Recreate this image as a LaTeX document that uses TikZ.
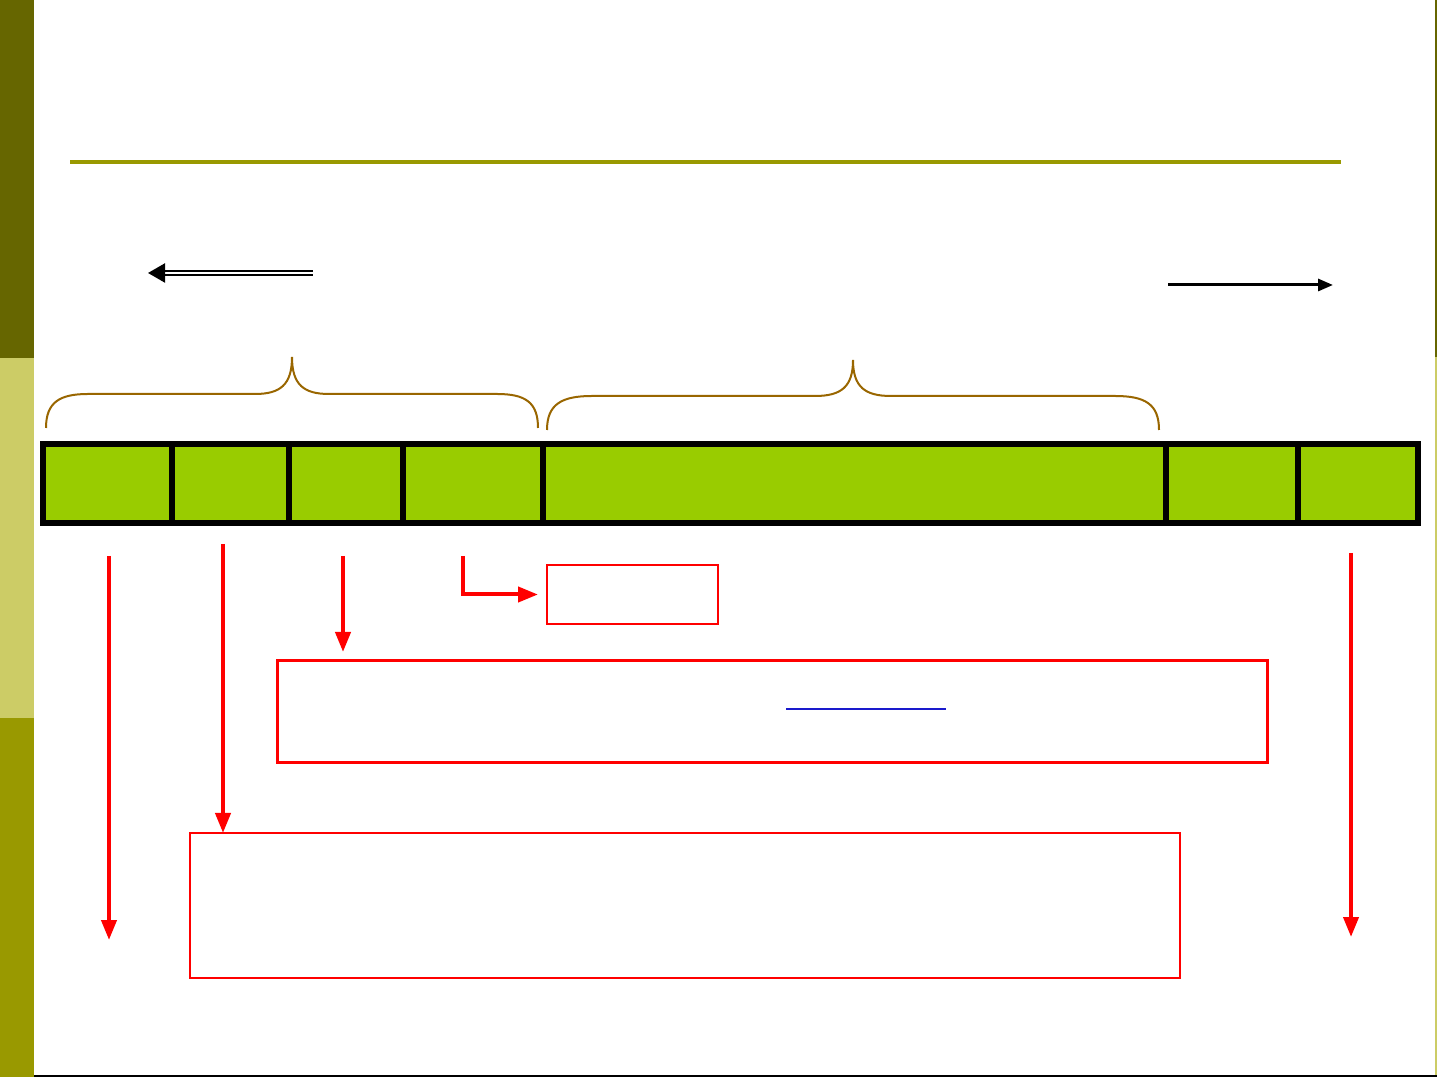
\documentclass[tikz,border=0pt]{standalone}
\usepackage{xcolor}
\usepackage{tikz}
\usetikzlibrary{arrows.meta, positioning, calc}
\definecolor{olivedark}{HTML}{666600}
\definecolor{olivelight}{HTML}{CCCC66}
\definecolor{olivemid}{HTML}{999900}
\definecolor{fieldgreen}{HTML}{99CC00}
\definecolor{bracebrown}{HTML}{996600}
\definecolor{linkblue}{HTML}{1A1ACC}
\tikzstyle{redarrow} = [red,line width=0.4mm,-{Triangle[length=2mm,width=1.5mm]}]
\tikzstyle{brace} = [bracebrown,line width=0.2mm]
\tikzset{
field/.style={draw=black,fill=fieldgreen,line width=0.6mm,inner sep=0pt,outer sep=0pt,minimum height=7.85mm},
notebox/.style={draw=red,line width=0.25mm,inner sep=0pt,outer sep=0pt}
}

\begin{document}
\begin{tikzpicture}[x=0.1mm,y=-0.1mm]
\useasboundingbox (0,0) rectangle (1437,1077);
%----------------------------------------------------------------------------
% Slide frame
\fill[olivedark] (0,0) rectangle (34,358);
\fill[olivelight] (0,358) rectangle (34,718);
\fill[olivemid] (0,718) rectangle (34,1077);
\fill[olivedark] (1435,0) rectangle (1437,357);
\fill[olivelight] (1435,357) rectangle (1437,1077);
\fill[black] (34,1075) rectangle (1437,1077);
\fill[olivemid] (70,160) rectangle (1341,164);

%----------------------------------------------------------------------------
% Placement of field nodes
\node (seg1) [field, minimum width=12.85mm, anchor=north west] at (43,444.5) {};
\node (seg2) [field, minimum width=11.75mm, right=0pt of seg1] {};
\node (seg3) [field, minimum width=11.4mm, right=0pt of seg2] {};
\node (seg4) [field, minimum width=14mm, right=0pt of seg3] {};
\node (seg5) [field, minimum width=62.25mm, right=0pt of seg4] {};
\node (seg6) [field, minimum width=13.2mm, right=0pt of seg5] {};
\node (seg7) [field, minimum width=12.05mm, right=0pt of seg6] {};

% Note boxes
\node (noteSmall) [notebox, minimum width=17.1mm, minimum height=5.9mm, anchor=north west] at (547,565) {};
\node (noteMid) [notebox, line width=0.3mm, minimum width=99mm, minimum height=10.2mm, anchor=north west] at (277,661) {};
\node (noteBig) [notebox, minimum width=99mm, minimum height=14.5mm, anchor=north west] at (190,833) {};

%----------------------------------------------------------------------------
% Lines
\draw[line width=0.22mm, double, double distance=0.25mm, {Triangle[length=1.7mm,width=1.9mm]}-] (148,273) -- (313,273);
\draw[line width=0.3mm, -{Triangle[length=1.5mm,width=1.2mm]}] (1168,285) -- (1333,285);

% Braces
\draw[brace] (46,428) .. controls (46,402) and (60,394) .. (88,394) -- (255,394)
  .. controls (280,394) and (292,385) .. (292,357)
  .. controls (292,385) and (304,394) .. (329,394) -- (497,394)
  .. controls (525,394) and (538,402) .. (538,428);
\draw[brace] (547,430) .. controls (547,404) and (562,396) .. (592,396) -- (815,396)
  .. controls (841,396) and (853,387) .. (853,360)
  .. controls (853,387) and (865,396) .. (891,396) -- (1115,396)
  .. controls (1145,396) and (1159,404) .. (1159,430);

% Red arrows
\coordinate (a1) at (109,556);
\coordinate (a1end) at (109,940);
\coordinate (a2) at (223,544);
\coordinate (a3) at (343,556);
\coordinate (a4) at (463,556);
\coordinate (a5) at (1351,553);
\coordinate (a5end) at (1351,937);
\draw[redarrow] (a1) -- (a1end);
\draw[redarrow] (a2) -- (a2 |- noteBig.north);
\draw[redarrow] (a3) -- ($(a3 |- noteMid.north)+(0,-9)$);
\draw[redarrow] (a4) |- ($(noteSmall.west)+(-9,0)$);
\draw[redarrow] (a5) -- (a5end);

%----------------------------------------------------------------------------
% Notes
\draw[linkblue, line width=0.15mm] (786,709) -- (946,709);

\end{tikzpicture}
\end{document}
